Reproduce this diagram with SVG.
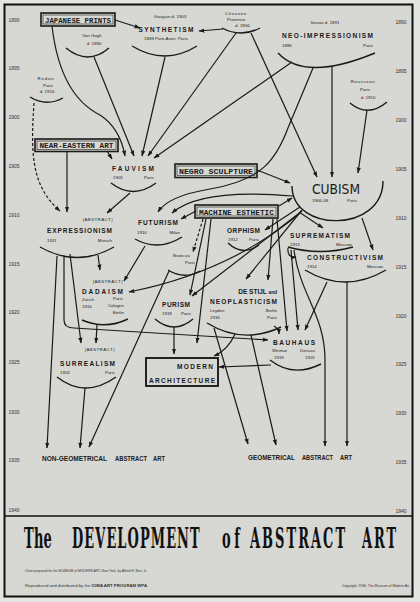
<svg xmlns="http://www.w3.org/2000/svg" width="420" height="602" viewBox="0 0 420 602">
<defs>
<marker id="ah" viewBox="0 0 10 10" refX="9" refY="5" markerWidth="6" markerHeight="6" orient="auto" markerUnits="userSpaceOnUse">
<path d="M0,1.5 L10,5 L0,8.5 z" fill="#1a1a1a"/>
</marker>
<style>
.ln{fill:none;stroke:#1a1a1a;stroke-width:1.2}
.a{marker-end:url(#ah)}
.d{stroke-dasharray:3,2}
.arc{fill:none;stroke:#1a1a1a;stroke-width:1.4}
.mv{font-family:"Liberation Sans",Arial,sans-serif;font-weight:bold;font-size:6.5px;fill:#1a1a1a}
.sm{font-family:"Liberation Sans",Arial,sans-serif;font-size:4.4px;fill:#1f1f1f}
.bx{font-family:"Liberation Mono","DejaVu Sans Mono",monospace;font-weight:bold;font-size:7.5px;fill:#1a1a1a}
.yr{font-family:"Liberation Sans",Arial,sans-serif;font-size:5px;fill:#333;text-anchor:middle}
.bo{fill:none;stroke:#1a1a1a;stroke-width:1.6}
.bi{fill:none;stroke:#1a1a1a;stroke-width:0.6}
.e{text-anchor:end}
.m{text-anchor:middle}
.ti{font-family:"DejaVu Serif","Liberation Serif",serif;font-weight:bold;font-size:27px;fill:#111}
.cr{font-family:"Liberation Sans",Arial,sans-serif;font-size:3.4px;fill:#333}
</style>
</defs>
<rect x="0" y="0" width="420" height="602" fill="#e4e4e2"/>
<rect x="4.5" y="4.5" width="408" height="592" fill="#d7d7d3" stroke="#111" stroke-width="2"/>
<line x1="4.5" y1="516" x2="412.5" y2="516" stroke="#111" stroke-width="1.6"/>

<g id="years">
<text class="yr" x="14" y="22">1890</text><text class="yr" x="14" y="70">1895</text><text class="yr" x="14" y="119">1900</text><text class="yr" x="14" y="168">1905</text><text class="yr" x="14" y="217">1910</text><text class="yr" x="14" y="266">1915</text><text class="yr" x="14" y="314">1920</text><text class="yr" x="14" y="364">1925</text><text class="yr" x="14" y="414">1930</text><text class="yr" x="14" y="462">1935</text><text class="yr" x="14" y="512">1940</text>
<text class="yr" x="401" y="24">1890</text><text class="yr" x="401" y="73">1895</text><text class="yr" x="401" y="122">1900</text><text class="yr" x="401" y="171">1905</text><text class="yr" x="401" y="220">1910</text><text class="yr" x="401" y="269">1915</text><text class="yr" x="401" y="318">1920</text><text class="yr" x="401" y="366">1925</text><text class="yr" x="401" y="415">1930</text><text class="yr" x="401" y="464">1935</text><text class="yr" x="401" y="513">1940</text>
</g>

<g id="connectors">
<path class="ln a" d="M115,20 L140,28"/>
<path class="ln a" d="M223,29 L199,31"/>
<path class="ln a" d="M52,26 Q60,95 100,115 Q120,128 125,156"/>
<path class="ln a" d="M94,57 L134,156"/>
<path class="ln a" d="M165,57 L142,156"/>
<path class="ln a" d="M236,33 L148,156"/>
<path class="ln a" d="M292,62 L154,158"/>
<path class="ln a" d="M107,151 L112,159"/>
<path class="ln a" d="M251,33 L317,177"/>
<path class="ln a" d="M332,66 L332,177"/>
<path class="ln a" d="M367,110 L358,173"/>
<path class="ln a" d="M313,68 L288,128 C276,160 262,180 210,189 Q168,196 158,212"/>
<path class="ln a" d="M293,196 Q200,188 172,213"/>
<path class="ln a" d="M196,211 L181,219"/>
<path class="ln a" d="M279,206 L292,198"/>
<path class="ln a" d="M257,170 L290,183"/>
<path class="ln a" d="M67,151 L67,212"/>
<path class="ln a d" d="M34,103 C31,150 30,185 60,211"/>
<path class="ln a" d="M130,193 L107,213"/>
<path class="ln a" d="M57,256 L47,448"/>
<path class="ln a" d="M64,257 L64,320 Q64,328 74,328 L268,340"/>
<path class="ln a" d="M70,254 L81,343"/>
<path class="ln a" d="M98,255 L100,270"/>
<path class="ln a" d="M145,246 L124,281"/>
<path class="ln a" d="M300,213 Q230,272 129,292"/>
<path class="ln a" d="M97,325 L96,343"/>
<path class="ln a" d="M85,388 L80,448"/>
<path class="ln a" d="M169,271 L89,447"/>
<path class="ln a d" d="M203,219 L193,252"/>
<path class="ln a" d="M206,219 L190,295"/>
<path class="ln a" d="M211,219 L197,343"/>
<path class="ln a" d="M302,211 L192,296"/>
<path class="ln a" d="M300,207 L265,230"/>
<path class="ln a" d="M302,210 L246,279"/>
<path class="ln a" d="M273,219 L268,280"/>
<path class="ln a" d="M299,212 L323,228"/>
<path class="ln a" d="M362,218 L373,250"/>
<path class="ln a" d="M288,248 Q287,258 296,257"/>
<path class="ln a" d="M291,250 L298,330"/>
<path class="ln a" d="M277,219 L287,331"/>
<path class="ln a" d="M327,282 L305,330"/>
<path class="ln a" d="M274,326 Q279,329 279,334"/>
<path class="ln a" d="M294,250 C300,295 325,315 325,360 L325,446"/>
<path class="ln a" d="M347,281 L347,446"/>
<path class="ln a" d="M271,365 L219,367"/>
<path class="ln a" d="M174,327 L174,354"/>
<path class="ln a" d="M235,334 Q228,350 214,356"/>
<path class="ln a" d="M214,328 L248,444"/>
<path class="ln a" d="M251,335 L276,445"/>
</g>

<g id="n-japanese">
<rect class="bo" x="41" y="13" width="74" height="13"/>
<rect class="bi" x="43" y="15" width="70" height="9"/>
<text class="bx m" x="78" y="22.6" textLength="66" lengthAdjust="spacingAndGlyphs">JAPANESE PRINTS</text>
</g>
<g id="n-synthetism">
<text class="sm m" x="170" y="18">Gauguin d. 1903</text>
<text class="mv m" x="166" y="32" textLength="55" lengthAdjust="spacing">SYNTHETISM</text>
<text class="sm m" x="166" y="40">1888 Pont-Aven, Paris</text>
<path class="arc" d="M132,46 Q165,66 197,46"/>
</g>
<g id="n-vangogh">
<text class="sm m" x="92" y="37">Van Gogh</text>
<text class="sm m" x="94" y="45">d. 1890</text>
<path class="arc" d="M66,48 Q88,66 109,48"/>
</g>
<g id="n-redon">
<text class="sm m" x="46" y="80" letter-spacing="0.8">Redon</text>
<text class="sm m" x="48" y="87">Paris</text>
<text class="sm m" x="47" y="93">d. 1916</text>
<path class="arc" d="M30,97 Q46,107 63,98"/>
</g>
<g id="n-cezanne">
<text class="sm" x="225" y="15" letter-spacing="0.6">Cézanne</text>
<text class="sm" x="227" y="21">Provence</text>
<text class="sm" x="235" y="27">d. 1906</text>
<path class="arc" d="M222,28 Q241,38 260,28"/>
</g>
<g id="n-neoimp">
<text class="sm m" x="325" y="24">Seurat d. 1891</text>
<text class="mv m" x="327.5" y="38" textLength="91" lengthAdjust="spacing">NEO-IMPRESSIONISM</text>
<text class="sm" x="282" y="47">1886</text>
<text class="sm e" x="373" y="47">Paris</text>
<path class="arc" d="M278,53 Q305,82 375,53"/>
</g>
<g id="n-rousseau">
<text class="sm m" x="363" y="83" letter-spacing="0.6">Rousseau</text>
<text class="sm m" x="365" y="91">Paris</text>
<text class="sm m" x="368" y="99">d. 1910</text>
<path class="arc" d="M350,103 Q368,118 387,102"/>
</g>
<g id="n-neareastern">
<rect class="bo" x="35" y="139" width="83" height="12.5"/>
<rect class="bi" x="37" y="141" width="79" height="8.5"/>
<text class="bx m" x="76.5" y="148.3" textLength="74" lengthAdjust="spacingAndGlyphs">NEAR-EASTERN ART</text>
</g>
<g id="n-fauvism">
<text class="mv m" x="133" y="171" textLength="42" lengthAdjust="spacing">FAUVISM</text>
<text class="sm" x="113" y="179">1905</text>
<text class="sm e" x="154" y="179">Paris</text>
<path class="arc" d="M111,183 Q133,200 156,183"/>
</g>
<g id="n-negro">
<rect class="bo" x="175" y="164" width="82" height="13.5"/>
<rect class="bi" x="177" y="166" width="78" height="9.5"/>
<text class="bx m" x="216" y="174" textLength="74" lengthAdjust="spacingAndGlyphs">NEGRO SCULPTURE</text>
</g>
<g id="n-cubism">
<text x="312" y="194" font-family="DejaVu Sans,Liberation Sans,sans-serif" font-size="14" fill="#1a1a1a" textLength="48" lengthAdjust="spacingAndGlyphs">CUBISM</text>
<text class="sm" x="312" y="202">1906-08</text>
<text class="sm" x="347" y="202">Paris</text>
<path class="arc" d="M292,186 C292,233 383,233 383,181"/>
</g>
<g id="n-machine">
<rect class="bo" x="195" y="205" width="83" height="13"/>
<rect class="bi" x="197" y="207" width="79" height="9"/>
<text class="bx m" x="236.5" y="214.8" textLength="75" lengthAdjust="spacingAndGlyphs">MACHINE ESTHETIC</text>
</g>
<g id="n-futurism">
<text class="mv m" x="158" y="225" textLength="40" lengthAdjust="spacing">FUTURISM</text>
<text class="sm" x="137" y="234">1910</text>
<text class="sm e" x="180" y="234">Milan</text>
<path class="arc" d="M135,239 Q158,252 182,237"/>
</g>
<g id="n-orphism">
<text class="mv m" x="243.5" y="233" textLength="33" lengthAdjust="spacing">ORPHISM</text>
<text class="sm" x="228" y="241">1912</text>
<text class="sm e" x="259" y="241">Paris</text>
<path class="arc" d="M228,243 Q243,257 259,245"/>
</g>
<g id="n-brancusi">
<text class="sm" x="173" y="257">Brancusi</text>
<text class="sm" x="185" y="264">Paris</text>
<path class="arc" d="M168,270 Q184,280 200,271"/>
</g>
<g id="n-expressionism">
<text class="sm e" x="113" y="221" letter-spacing="0.4">(ABSTRACT)</text>
<text class="mv" x="47" y="233" textLength="65" lengthAdjust="spacing">EXPRESSIONISM</text>
<text class="sm" x="47" y="242">1911</text>
<text class="sm e" x="112" y="242">Munich</text>
<path class="arc" d="M40,247 Q77,268 114,247"/>
</g>
<g id="n-suprematism">
<text class="mv" x="290" y="238" textLength="60" lengthAdjust="spacing">SUPREMATISM</text>
<text class="sm" x="290" y="246">1913</text>
<text class="sm e" x="352" y="246">Moscow</text>
<path class="arc" d="M288,247 Q320,256 353,247"/>
</g>
<g id="n-constructivism">
<text class="mv" x="307" y="260" textLength="76" lengthAdjust="spacing">CONSTRUCTIVISM</text>
<text class="sm" x="307" y="268">1914</text>
<text class="sm e" x="383" y="268">Moscow</text>
<path class="arc" d="M305,270 Q345,294 386,270"/>
</g>
<g id="n-dadaism">
<text class="sm e" x="123" y="283" letter-spacing="0.4">(ABSTRACT)</text>
<text class="mv" x="82" y="294" textLength="41" lengthAdjust="spacing">DADAISM</text>
<text class="sm" x="82" y="301">Zurich</text>
<text class="sm" x="82" y="308">1916</text>
<text class="sm e" x="123" y="300">Paris</text>
<text class="sm e" x="124" y="307">Cologne</text>
<text class="sm e" x="124" y="314">Berlin</text>
<path class="arc" d="M82,320 Q105,330 128,319"/>
</g>
<g id="n-purism">
<text class="mv" x="162" y="307" textLength="28" lengthAdjust="spacing">PURISM</text>
<text class="sm" x="162" y="315">1918</text>
<text class="sm e" x="191" y="315">Paris</text>
<path class="arc" d="M155,319 Q174,335 193,319"/>
</g>
<g id="n-destijl">
<text class="mv e" x="277" y="294" font-size="5.5">DE STIJL <tspan font-size="4.8">and</tspan></text>
<text class="mv" x="210" y="304" textLength="67" lengthAdjust="spacing">NEOPLASTICISM</text>
<text class="sm" x="210" y="312">Leyden</text>
<text class="sm" x="210" y="319">1916</text>
<text class="sm e" x="277" y="312">Berlin</text>
<text class="sm e" x="277" y="319">Paris</text>
<path class="arc" d="M207,323 Q243,345 281,327"/>
</g>
<g id="n-bauhaus">
<text class="mv" x="273" y="345" textLength="42" lengthAdjust="spacing">BAUHAUS</text>
<text class="sm" x="272" y="352">Weimar</text>
<text class="sm" x="274" y="359">1919</text>
<text class="sm" x="300" y="352">Dessau</text>
<text class="sm" x="305" y="359">1925</text>
<path class="arc" d="M270,360 Q293,378 321,364"/>
</g>
<g id="n-modernarch">
<rect x="146" y="358" width="72" height="28" fill="none" stroke="#111" stroke-width="1.8"/>
<text class="mv e" x="213" y="368.5" textLength="36" lengthAdjust="spacing">MODERN</text>
<text class="mv" x="149" y="382.5" textLength="66" lengthAdjust="spacing">ARCHITECTURE</text>
</g>
<g id="n-surrealism">
<text class="sm e" x="115" y="351" letter-spacing="0.4">(ABSTRACT)</text>
<text class="mv" x="60" y="366" textLength="55" lengthAdjust="spacing">SURREALISM</text>
<text class="sm" x="60" y="374">1924</text>
<text class="sm e" x="115" y="374">Paris</text>
<path class="arc" d="M57,377 Q85,399 116,377"/>
</g>
<g id="n-nongeo">
<text class="mv" x="42" y="460.5" textLength="65" lengthAdjust="spacingAndGlyphs">NON-GEOMETRICAL</text>
<text class="mv" x="115" y="460.5" textLength="32" lengthAdjust="spacingAndGlyphs">ABSTRACT</text>
<text class="mv" x="153" y="460.5" textLength="12" lengthAdjust="spacingAndGlyphs">ART</text>
</g>
<g id="n-geo">
<text class="mv" x="248" y="460" textLength="47" lengthAdjust="spacingAndGlyphs">GEOMETRICAL</text>
<text class="mv" x="302" y="460" textLength="31" lengthAdjust="spacingAndGlyphs">ABSTRACT</text>
<text class="mv" x="340" y="460" textLength="12" lengthAdjust="spacingAndGlyphs">ART</text>
</g>

<g id="title">
<text class="ti" transform="translate(24,548) scale(0.48,1)" textLength="58" lengthAdjust="spacing">The</text>
<text class="ti" transform="translate(72,548) scale(0.48,1)" textLength="266" lengthAdjust="spacing">DEVELOPMENT</text>
<text class="ti" transform="translate(222,548) scale(0.48,1)" textLength="37" lengthAdjust="spacing">of</text>
<text class="ti" transform="translate(250,548) scale(0.48,1)" textLength="198" lengthAdjust="spacing">ABSTRACT</text>
<text class="ti" transform="translate(362,548) scale(0.48,1)" textLength="71" lengthAdjust="spacing">ART</text>
<text class="cr" x="25" y="572" textLength="122" lengthAdjust="spacingAndGlyphs">Chart prepared for the MUSEUM of MODERN ART, New York, by Alfred H. Barr, Jr.</text>
<text class="cr" x="25" y="587" textLength="122" lengthAdjust="spacingAndGlyphs">Reproduced and distributed by the <tspan font-weight="bold">IOWA ART PROGRAM WPA</tspan></text>
<text class="cr" x="342" y="587" textLength="67" lengthAdjust="spacingAndGlyphs">Copyright, 1936, The Museum of Modern Art</text>
</g>
</svg>
